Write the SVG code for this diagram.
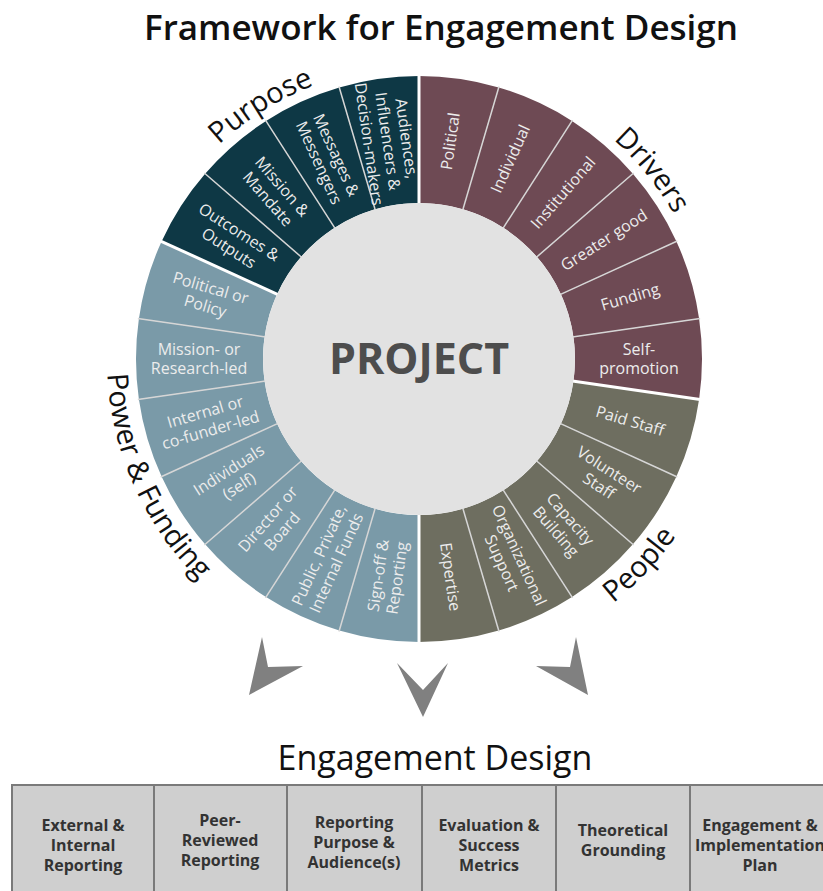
<svg xmlns="http://www.w3.org/2000/svg" width="823" height="891" viewBox="0 0 823 891">
<style>
.t{font-family:"Open Sans","DejaVu Sans",sans-serif}
.seg{font-family:"Open Sans","DejaVu Sans",sans-serif;font-size:16px;fill:#ececec;text-anchor:middle}
.cat{font-family:"Open Sans","DejaVu Sans",sans-serif;font-size:29px;fill:#111}
.cell{fill:#cfcfcf;stroke:#7a7a7a;stroke-width:2}
.ct{font-family:"Open Sans","DejaVu Sans",sans-serif;font-size:16px;font-weight:700;fill:#333;text-anchor:middle}
.div{stroke:#d6d6d6;stroke-width:1.5}
.gdiv{stroke:#ffffff;stroke-width:3}
.chev{fill:#808080}
</style>
<defs>
<path id="sec" d="M0,-283 A283,283 0 0 1 79.73,-271.54 L43.95,-149.68 A156,156 0 0 0 0,-156 Z"/>
<line id="rl" x1="0" y1="-155" x2="0" y2="-284"/>
<path id="pPurpose" d="M143.67,258.79 A293,293 0 0 1 449.63,67.61" fill="none"/>
<path id="pDrivers" d="M489.88,74.70 A293,293 0 0 1 711.82,348.77" fill="none"/>
<path id="pPeople" d="M473.18,666.26 A312,312 0 0 0 729.29,391.61" fill="none"/>
<path id="pPower" d="M125.82,252.29 A312,312 0 0 0 302.12,648.28" fill="none"/>
</defs>
<text class="t" x="441" y="40" font-size="35" font-weight="600" fill="#111" text-anchor="middle">Framework for Engagement Design</text>
<g id="wheel" transform="translate(419,359)">
<g id="drivers" fill="#6e4a54">
<use href="#sec" transform="rotate(0)"/>
<use href="#sec" transform="rotate(16.3636)"/>
<use href="#sec" transform="rotate(32.7273)"/>
<use href="#sec" transform="rotate(49.0909)"/>
<use href="#sec" transform="rotate(65.4545)"/>
<use href="#sec" transform="rotate(81.8182)"/>
</g>
<g id="people" fill="#6e6e60">
<use href="#sec" transform="rotate(98.1818)"/>
<use href="#sec" transform="rotate(114.5455)"/>
<use href="#sec" transform="rotate(130.9091)"/>
<use href="#sec" transform="rotate(147.2727)"/>
<use href="#sec" transform="rotate(163.6364)"/>
</g>
<g id="power" fill="#7a9aa8">
<use href="#sec" transform="rotate(180)"/>
<use href="#sec" transform="rotate(196.3636)"/>
<use href="#sec" transform="rotate(212.7273)"/>
<use href="#sec" transform="rotate(229.0909)"/>
<use href="#sec" transform="rotate(245.4545)"/>
<use href="#sec" transform="rotate(261.8182)"/>
<use href="#sec" transform="rotate(278.1818)"/>
</g>
<g id="purpose" fill="#0e3845">
<use href="#sec" transform="rotate(294.5455)"/>
<use href="#sec" transform="rotate(310.9091)"/>
<use href="#sec" transform="rotate(327.2727)"/>
<use href="#sec" transform="rotate(343.6364)"/>
</g>
<g id="dividers" class="div">
<use href="#rl" transform="rotate(16.3636)"/>
<use href="#rl" transform="rotate(32.7273)"/>
<use href="#rl" transform="rotate(49.0909)"/>
<use href="#rl" transform="rotate(65.4545)"/>
<use href="#rl" transform="rotate(81.8182)"/>
<use href="#rl" transform="rotate(114.5455)"/>
<use href="#rl" transform="rotate(130.9091)"/>
<use href="#rl" transform="rotate(147.2727)"/>
<use href="#rl" transform="rotate(163.6364)"/>
<use href="#rl" transform="rotate(196.3636)"/>
<use href="#rl" transform="rotate(212.7273)"/>
<use href="#rl" transform="rotate(229.0909)"/>
<use href="#rl" transform="rotate(245.4545)"/>
<use href="#rl" transform="rotate(261.8182)"/>
<use href="#rl" transform="rotate(278.1818)"/>
<use href="#rl" transform="rotate(310.9091)"/>
<use href="#rl" transform="rotate(327.2727)"/>
<use href="#rl" transform="rotate(343.6364)"/>
</g>
<g id="groupdividers" class="gdiv">
<use href="#rl" transform="rotate(0)"/>
<use href="#rl" transform="rotate(98.1818)"/>
<use href="#rl" transform="rotate(180)"/>
<use href="#rl" transform="rotate(294.5455)"/>
</g>
<g id="project">
<circle cx="0" cy="0" r="156" fill="#e2e2e2"/>
<text class="t" x="0" y="15" font-size="43" font-weight="700" fill="#4d4d4d" text-anchor="middle">PROJECT</text>
</g>
<g id="labels" class="seg">
<text transform="rotate(8.1818) translate(0,-220) rotate(-90)"><tspan x="0" dy="5.5">Political</tspan></text>
<text transform="rotate(24.5455) translate(0,-220) rotate(-90)"><tspan x="0" dy="5.5">Individual</tspan></text>
<text transform="rotate(40.9091) translate(0,-220) rotate(-90)"><tspan x="0" dy="5.5">Institutional</tspan></text>
<text transform="rotate(57.2727) translate(0,-220) rotate(-90)"><tspan x="0" dy="5.5">Greater good</tspan></text>
<text transform="rotate(73.6364) translate(0,-220) rotate(-90)"><tspan x="0" dy="5.5">Funding</tspan></text>
<text transform="rotate(90) translate(0,-220) rotate(-90)"><tspan x="0" dy="-4">Self-</tspan><tspan x="0" dy="19">promotion</tspan></text>
<text transform="rotate(106.3636) translate(0,-220) rotate(-90)"><tspan x="0" dy="5.5">Paid Staff</tspan></text>
<text transform="rotate(122.7273) translate(0,-220) rotate(-90)"><tspan x="0" dy="-4">Volunteer</tspan><tspan x="0" dy="19">Staff</tspan></text>
<text transform="rotate(139.0909) translate(0,-220) rotate(-90)"><tspan x="0" dy="-4">Capacity</tspan><tspan x="0" dy="19">Building</tspan></text>
<text transform="rotate(155.4545) translate(0,-220) rotate(-90)"><tspan x="0" dy="-4">Organizational</tspan><tspan x="0" dy="19">Support</tspan></text>
<text transform="rotate(171.8182) translate(0,-220) rotate(-90)"><tspan x="0" dy="5.5">Expertise</tspan></text>
<text transform="rotate(188.1818) translate(0,-220) rotate(90)"><tspan x="0" dy="-4">Sign-off &amp;</tspan><tspan x="0" dy="19">Reporting</tspan></text>
<text transform="rotate(204.5455) translate(0,-220) rotate(90)"><tspan x="0" dy="-4">Public, Private,</tspan><tspan x="0" dy="19">Internal Funds</tspan></text>
<text transform="rotate(220.9091) translate(0,-220) rotate(90)"><tspan x="0" dy="-4">Director or</tspan><tspan x="0" dy="19">Board</tspan></text>
<text transform="rotate(237.2727) translate(0,-220) rotate(90)"><tspan x="0" dy="-4">Individuals</tspan><tspan x="0" dy="19">(self)</tspan></text>
<text transform="rotate(253.6364) translate(0,-220) rotate(90)"><tspan x="0" dy="-4">Internal or</tspan><tspan x="0" dy="19">co-funder-led</tspan></text>
<text transform="rotate(270) translate(0,-220) rotate(90)"><tspan x="0" dy="-4">Mission- or</tspan><tspan x="0" dy="19">Research-led</tspan></text>
<text transform="rotate(286.3636) translate(0,-220) rotate(90)"><tspan x="0" dy="-4">Political or</tspan><tspan x="0" dy="19">Policy</tspan></text>
<text transform="rotate(302.7273) translate(0,-220) rotate(90)"><tspan x="0" dy="-4">Outcomes &amp;</tspan><tspan x="0" dy="19">Outputs</tspan></text>
<text transform="rotate(319.0909) translate(0,-220) rotate(90)"><tspan x="0" dy="-4">Mission &amp;</tspan><tspan x="0" dy="19">Mandate</tspan></text>
<text transform="rotate(335.4545) translate(0,-220) rotate(90)"><tspan x="0" dy="-4">Messages &amp;</tspan><tspan x="0" dy="19">Messengers</tspan></text>
<text transform="rotate(351.8182) translate(0,-220) rotate(90)"><tspan x="0" dy="-13.5">Audiences,</tspan><tspan x="0" dy="19">Influencers &amp;</tspan><tspan x="0" dy="19">Decision-makers</tspan></text>
</g>
</g>
<g id="categories" class="cat">
<text><textPath href="#pPurpose" startOffset="50%" text-anchor="middle">Purpose</textPath></text>
<text><textPath href="#pDrivers" startOffset="50%" text-anchor="middle">Drivers</textPath></text>
<text><textPath href="#pPeople" startOffset="50%" text-anchor="middle">People</textPath></text>
<text><textPath href="#pPower" startOffset="50%" text-anchor="middle">Power &amp; Funding</textPath></text>
</g>
<g id="connectors">
<polygon class="chev" points="262,637 268,667 303,666 249,695"/>
<polygon class="chev" points="397,663 423,690 448,663 423,717"/>
<polygon class="chev" points="576,637 570,667 536,666 588,695"/>
</g>
<text class="t" x="435" y="770" font-size="34" fill="#111" text-anchor="middle">Engagement Design</text>
<g id="table">
<g id="c1"><rect class="cell" x="12" y="785" width="142" height="120"/><text class="ct"><tspan x="83" y="831">External &amp;</tspan><tspan x="83" y="851">Internal</tspan><tspan x="83" y="871">Reporting</tspan></text></g>
<g id="c2"><rect class="cell" x="154" y="785" width="133" height="120"/><text class="ct"><tspan x="220" y="826">Peer-</tspan><tspan x="220" y="846">Reviewed</tspan><tspan x="220" y="866">Reporting</tspan></text></g>
<g id="c3"><rect class="cell" x="287" y="785" width="135" height="120"/><text class="ct"><tspan x="354" y="828">Reporting</tspan><tspan x="354" y="848">Purpose &amp;</tspan><tspan x="354" y="868">Audience(s)</tspan></text></g>
<g id="c4"><rect class="cell" x="422" y="785" width="134" height="120"/><text class="ct"><tspan x="489" y="831">Evaluation &amp;</tspan><tspan x="489" y="851">Success</tspan><tspan x="489" y="871">Metrics</tspan></text></g>
<g id="c5"><rect class="cell" x="556" y="785" width="134" height="120"/><text class="ct"><tspan x="623" y="836">Theoretical</tspan><tspan x="623" y="856">Grounding</tspan></text></g>
<g id="c6"><rect class="cell" x="690" y="785" width="140" height="120"/><text class="ct"><tspan x="760" y="831">Engagement &amp;</tspan><tspan x="760" y="851">Implementation</tspan><tspan x="760" y="871">Plan</tspan></text></g>
</g>
</svg>
